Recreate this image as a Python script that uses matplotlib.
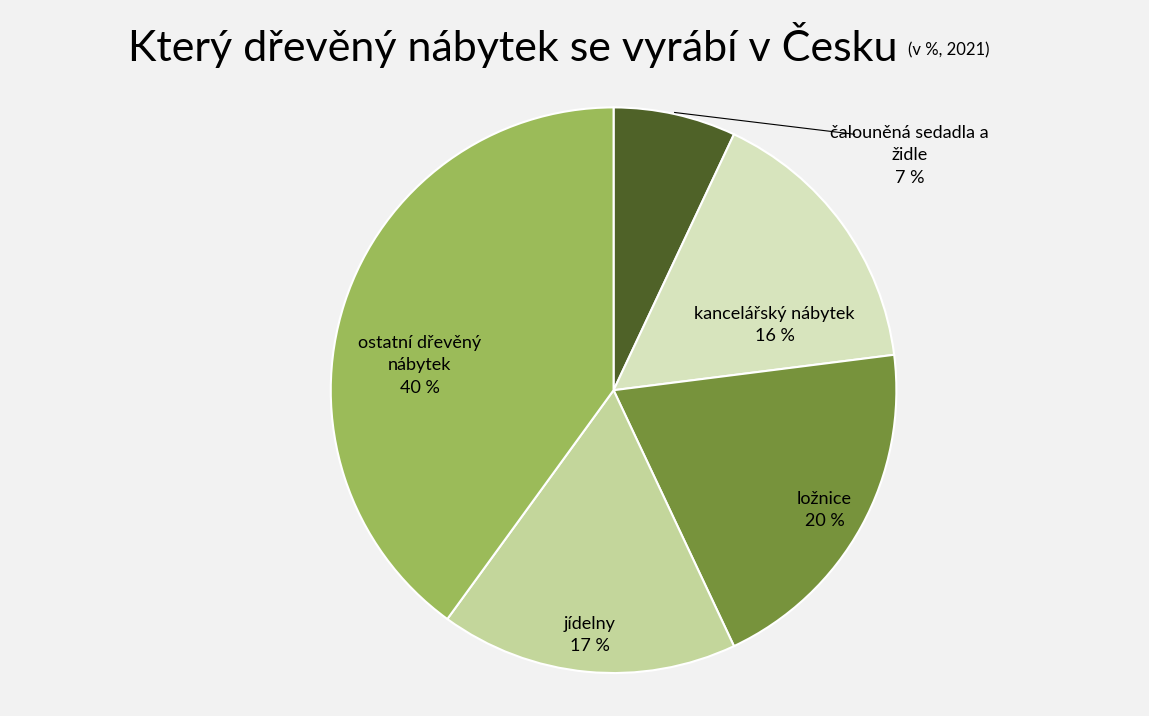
import matplotlib
matplotlib.use("Agg")
import matplotlib.pyplot as plt

categories = ["čalouněná sedadla a\nžidle", "kancelářský nábytek", "ložnice", "jídelny", "ostatní dřevěný\nnábytek"]
values = [7, 16, 20, 17, 40]
colors = ["#4F6228", "#D7E4BD", "#77933C", "#C3D69B", "#9BBB59"]
label_pos = [(1.046, 0.83), (0.569, 0.23), (0.746, -0.424), (-0.085, -0.866), (-0.686, 0.088)]

plt.rcParams["font.family"] = ["Lato", "DejaVu Sans"]
bg = "#F2F2F2"
fig = plt.figure(figsize=(11.49, 7.16), dpi=100, facecolor=bg)
ax = fig.add_axes([0.534 - 0.2463, 0.455 - 0.395, 0.4926, 0.79])
ax.set_facecolor(bg)

ax.pie(values, colors=colors, startangle=90, counterclock=False,
       wedgeprops=dict(linewidth=1.5, edgecolor="white"))
ax.set_xlim(-1, 1)
ax.set_ylim(-1, 1)
ax.set_aspect("equal")
ax.axis("off")

for cat, v, (x, y) in zip(categories, values, label_pos):
    ax.text(x, y, f"{cat}\n{v} %", ha="center", va="center", fontsize=13,
            linespacing=1.5, clip_on=False)
ax.plot([0.216, 0.852], [0.982, 0.905], color="black", lw=0.8, clip_on=False)

t = fig.text(128 / 1149, 1 - 45 / 716, "Který dřevěný nábytek se vyrábí v Česku",
             fontsize=31, va="center", ha="left")
fig.canvas.draw()
bb = t.get_window_extent()
fig.text((bb.x1 + 10) / 1149, 1 - 50 / 716, "(v %, 2021)", fontsize=12, va="center", ha="left")

fig.savefig("out.png", dpi=100, facecolor=bg)
